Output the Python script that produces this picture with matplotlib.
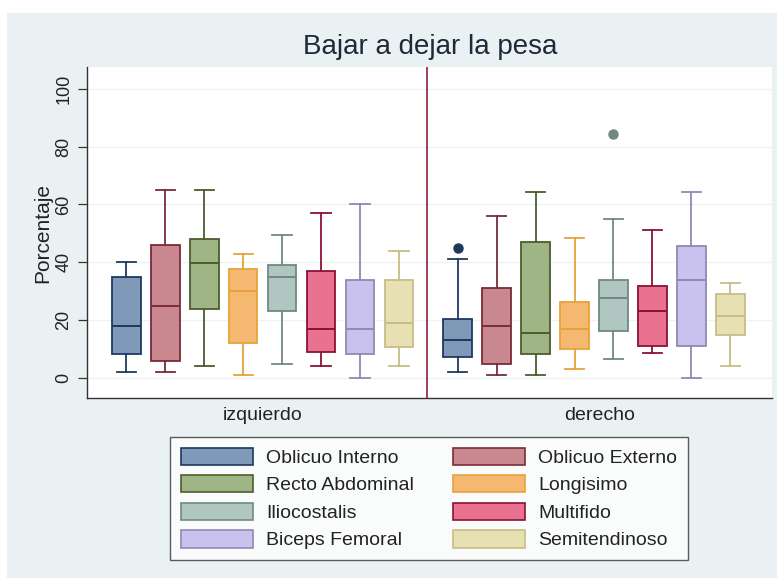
import matplotlib
matplotlib.use("Agg")
import matplotlib.pyplot as plt
from matplotlib.patches import Patch, Rectangle

plt.rcParams["font.family"] = ["Liberation Sans", "DejaVu Sans"]

# Muscles shown in each group
musculos = ["Oblicuo Interno", "Oblicuo Externo", "Recto Abdominal", "Longisimo",
            "Iliocostalis", "Multifido", "Biceps Femoral", "Semitendinoso"]
lados = ["izquierdo", "derecho"]

# Box summaries (percent) — left side
izq_lo  = [2.0, 2.0, 4.0, 1.0, 5.0, 4.0, 0.0, 4.0]
izq_q1  = [8.2, 6.0, 24.0, 12.0, 23.0, 9.0, 8.2, 10.7]
izq_med = [18.0, 25.0, 39.7, 30.0, 35.0, 17.0, 17.0, 19.0]
izq_q3  = [35.0, 46.0, 48.0, 37.6, 39.0, 37.0, 34.0, 34.0]
izq_hi  = [40.0, 65.0, 65.0, 43.0, 49.5, 57.0, 60.0, 44.0]
izq_out = [[], [], [], [], [], [], [], []]

# Box summaries (percent) — right side
der_lo  = [2.0, 1.0, 1.0, 3.0, 6.7, 8.7, 0.0, 4.2]
der_q1  = [7.2, 5.0, 8.2, 10.2, 16.3, 11.2, 11.2, 14.8]
der_med = [13.0, 18.0, 15.5, 17.0, 27.8, 23.2, 34.0, 21.6]
der_q3  = [20.5, 31.0, 47.0, 26.2, 34.0, 31.8, 45.8, 29.0]
der_hi  = [41.0, 56.0, 64.3, 48.3, 55.0, 51.3, 64.3, 33.0]
der_out = [[45.0], [], [], [], [84.4], [], [], []]

fill_colors = ["#8099b8", "#c98890", "#9fb585", "#f5b870", "#b0c6c0",
               "#e8728f", "#c9c2ee", "#e7e0b2"]
edge_colors = ["#1c3a5e", "#7a2c38", "#4b5d2c", "#e6a23a", "#6f8a82",
               "#8c1233", "#9189b3", "#c9bd85"]

yticks = [0, 20, 40, 60, 80, 100]

W, H = 777, 578
fig = plt.figure(figsize=(W / 100, H / 100), dpi=100, facecolor="white")
# light graph region, leaving a thin white strip at top and left
fig.patches.append(Rectangle((7 / W, 0), 1 - 7 / W, 1 - 13 / H, transform=fig.transFigure,
                             facecolor="#e9f1f3", edgecolor="none", zorder=-10))

ax = fig.add_axes([87 / W, 1 - 398.3 / H, 684.7 / W, (398.3 - 67) / H])
ax.set_facecolor("white")

gap = 8.5
groups = [
    (0.0, izq_lo, izq_q1, izq_med, izq_q3, izq_hi, izq_out),
    (gap, der_lo, der_q1, der_med, der_q3, der_hi, der_out),
]
for off, lo, q1, med, q3, hi, out in groups:
    for i in range(len(musculos)):
        stats = [dict(whislo=lo[i], q1=q1[i], med=med[i], q3=q3[i], whishi=hi[i],
                      fliers=out[i], label=musculos[i])]
        ec = edge_colors[i]
        ax.bxp(stats, positions=[off + i], widths=0.73, capwidths=0.5,
               patch_artist=True, manage_ticks=False,
               boxprops=dict(facecolor=fill_colors[i], edgecolor=ec, linewidth=1.3),
               medianprops=dict(color=ec, linewidth=1.4),
               whiskerprops=dict(color=ec, linewidth=1.3),
               capprops=dict(color=ec, linewidth=1.3),
               flierprops=dict(marker="o", markerfacecolor=ec, markeredgecolor=ec,
                               markersize=6.5))

ax.axvline((7 + gap) / 2 - 0.03, color="#8b2335", linewidth=1.2, zorder=3)

ax.set_xlim(-1.01, 16.56)
ax.set_ylim(-7.0, 107.5)
ax.set_yticks(yticks)
ax.set_yticklabels([str(t) for t in yticks], rotation=90, va="center", fontsize=13,
                   color="#222222")
ax.yaxis.grid(True, color="#eef2f2", linewidth=1.0)
ax.set_axisbelow(True)
ax.tick_params(axis="y", length=6.5, width=0.9, color="#333333", pad=4)
ax.set_xticks([3.5, gap + 3.65])
ax.set_xticklabels(lados, fontsize=14, color="#222222")
ax.tick_params(axis="x", length=0, pad=6)
for s in ("top", "right"):
    ax.spines[s].set_visible(False)
for s in ("left", "bottom"):
    ax.spines[s].set_color("#333333")
    ax.spines[s].set_linewidth(1.0)
ax.set_ylabel("Porcentaje", fontsize=15, color="#222222", labelpad=2)

fig.text(430 / W, 1 - 46.7 / H, "Bajar a dejar la pesa", fontsize=20, color="#1f2a38",
         ha="center", va="center")

# legend: two columns, filled row by row
order = [0, 2, 4, 6, 1, 3, 5, 7]
handles = [Patch(facecolor=fill_colors[k], edgecolor=edge_colors[k], linewidth=1.2)
           for k in order]
labels = [musculos[k] for k in order]
leg = fig.legend(handles, labels, ncol=2, loc="center",
                 bbox_to_anchor=(429 / W, 1 - 498.5 / H), fontsize=14,
                 handlelength=3.7, handleheight=1.0, handletextpad=0.7,
                 labelspacing=0.42, columnspacing=2.0, borderpad=0.55,
                 frameon=True, fancybox=False, edgecolor="#333333")
leg.get_frame().set_linewidth(1.0)
leg.get_frame().set_facecolor("white")
for t in leg.get_texts():
    t.set_color("#222222")

fig.savefig("out.png", dpi=100, facecolor=fig.get_facecolor())
